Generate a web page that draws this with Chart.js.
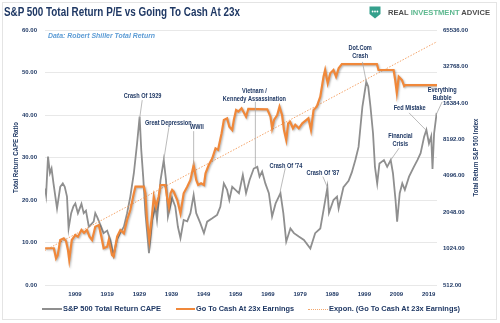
<!DOCTYPE html>
<html>
<head>
<meta charset="utf-8">
<script src="https://cdn.jsdelivr.net/npm/chart.js@4.4.1/dist/chart.umd.min.js"></script>
<style>
  html, body { margin:0; padding:0; background:#fff; }
  #wrap { position:relative; width:500px; height:323px; overflow:hidden; font-family:"Liberation Sans", Arial, sans-serif; }
  #frame { position:absolute; left:2px; top:2px; width:495px; height:318px; border:1px solid #e4e4e4; box-sizing:border-box; }
  #chart { position:absolute; left:0; top:0; }
  .txt { position:absolute; white-space:nowrap; transform-origin:0 50%; line-height:1; }
  .navy { color:#1f3864; }
  .key { position:absolute; }
</style>
</head>
<body>
<div id="wrap">
  <div id="frame"></div>
  <canvas id="chart" width="500" height="323"></canvas>

  <div class="txt navy" data-w="236" style="left:4px;top:6.4px;font-size:12px;font-weight:bold;">S&amp;P 500 Total Return P/E vs Going To Cash At 23x</div>

  <svg class="key" style="left:369px;top:6px" width="12" height="13" viewBox="0 0 12 13">
    <path d="M0.5 0.5 H11.5 V8 L6 12.5 L0.5 8 Z" fill="#35a08c"/>
    <circle cx="3.6" cy="5.5" r="0.9" fill="#fff"/>
    <circle cx="6" cy="5.5" r="0.9" fill="#fff"/>
    <circle cx="8.4" cy="5.5" r="0.9" fill="#fff"/>
  </svg>
  <div class="txt" data-w="102" style="left:388px;top:9.9px;font-size:6.5px;font-weight:bold;color:#4d4d4d;">REAL <span style="color:#5db88f">INVESTMENT</span> ADVICE</div>

  <div class="txt" data-w="107" style="left:48px;top:32px;font-size:7.5px;font-weight:bold;font-style:italic;color:#5b9bd5;">Data: Robert Shiller Total Return</div>

  <div class="key" style="left:42px;top:308px;width:20px;height:2px;background:#8f8f8f"></div>
  <div class="txt navy" data-w="98" style="left:63px;top:304.7px;font-size:8px;font-weight:bold;">S&amp;P 500 Total Return CAPE</div>
  <div class="key" style="left:176px;top:308px;width:19px;height:2px;background:#f0883a"></div>
  <div class="txt navy" data-w="98" style="left:196px;top:304.7px;font-size:8px;font-weight:bold;">Go To Cash At 23x Earnings</div>
  <div class="key" style="left:308px;top:308.5px;width:20px;height:0;border-top:1px dotted #f4a76c"></div>
  <div class="txt navy" data-w="131" style="left:329px;top:304.7px;font-size:8px;font-weight:bold;">Expon. (Go To Cash At 23x Earnings)</div>
</div>

<script>
// Total return CAPE (left axis), decimal years
var capeYears = [
  1899.7, 1900.0, 1900.6, 1901.2, 1901.7, 1902.3, 1903.4, 1904.4, 1905.2, 1905.8,
  1906.5, 1907.0, 1907.8, 1908.5, 1909.1, 1909.9, 1911.0, 1911.7, 1912.4, 1913.3,
  1914.8, 1915.3, 1916.0, 1916.9, 1917.9, 1919.0, 1920.0, 1921.0, 1922.0, 1923.0,
  1924.2, 1925.2, 1926.2, 1927.3, 1928.3, 1929.1, 1929.6, 1930.2, 1930.9, 1932.0,
  1933.0, 1934.0, 1934.5, 1935.6, 1936.6, 1937.3, 1937.9, 1939.2, 1940.2, 1941.0,
  1941.8, 1942.8, 1943.9, 1944.9, 1945.9, 1946.7, 1948.0, 1949.1, 1950.1, 1951.7,
  1953.2, 1954.2, 1955.3, 1956.3, 1957.0, 1957.9, 1958.9, 1960.0, 1961.2, 1962.2,
  1963.3, 1964.6, 1965.7, 1966.4, 1967.2, 1968.2, 1969.3, 1970.3, 1971.4, 1972.4,
  1972.9, 1973.8, 1974.7, 1976.0, 1977.1, 1978.6, 1980.2, 1982.2, 1983.7, 1985.3,
  1986.3, 1987.5, 1988.0, 1989.4, 1990.5, 1991.0, 1992.5, 1994.1, 1995.1, 1996.2,
  1997.2, 1997.8, 1998.4, 1999.6, 2000.2, 2000.9, 2001.7, 2002.3, 2003.0, 2003.7,
  2005.1, 2006.1, 2007.2, 2007.9, 2008.7, 2009.2, 2010.0, 2010.8, 2011.6, 2012.9,
  2014.4, 2015.5, 2016.5, 2017.6, 2018.3, 2019.1, 2019.8, 2020.2, 2020.7, 2021.5
];
var capeValues = [
  22.7, 21.2, 30.2, 26.3, 27.4, 23.9, 18.0, 23.1, 23.9, 23.1,
  20.8, 13.3, 16.9, 18.5, 19.2, 16.9, 19.1, 16.9, 17.5, 13.7,
  14.9, 16.9, 15.8, 14.1, 12.2, 12.8, 10.6, 7.0, 10.6, 12.2,
  13.7, 16.9, 20.8, 26.3, 33.3, 39.6, 31.8, 25.5, 16.9, 7.5,
  15.3, 18.4, 15.3, 24.7, 29.4, 24.7, 16.1, 20.5, 18.4, 13.7,
  11.0, 15.3, 15.0, 16.9, 21.2, 16.9, 14.5, 12.2, 14.9, 15.7,
  16.5, 18.4, 23.9, 22.4, 20.0, 23.1, 22.4, 21.6, 25.9, 21.6,
  24.7, 27.4, 27.8, 25.5, 26.7, 23.9, 21.6, 16.1, 19.2, 20.8,
  21.6, 16.9, 10.2, 13.3, 12.2, 11.4, 10.6, 8.6, 12.2, 13.3,
  17.6, 22.9, 17.0, 20.0, 20.8, 18.0, 23.0, 24.5, 26.5, 29.4,
  32.5, 37.3, 42.0, 47.8, 46.7, 42.0, 35.7, 27.8, 23.9, 28.6,
  29.4, 27.8, 29.4, 26.3, 20.0, 14.9, 21.6, 23.9, 22.4, 25.5,
  27.8, 29.4, 31.0, 34.9, 36.5, 33.3, 35.0, 27.3, 35.7, 40.5
];

// Go to cash at 23x earnings (right axis, index level)
var cashYears = [
  1899.7, 1902.4, 1903.1, 1903.6, 1904.4, 1905.5, 1906.2, 1906.8, 1907.2, 1908.0,
  1909.1, 1909.9, 1911.0, 1911.8, 1912.7, 1913.5, 1914.3, 1915.3, 1916.4, 1917.2,
  1917.9, 1919.0, 1919.5, 1920.5, 1921.0, 1922.1, 1923.1, 1924.2, 1925.2, 1926.2,
  1927.3, 1927.8, 1930.4, 1930.9, 1931.4, 1932.1, 1933.0, 1933.5, 1934.2, 1935.0,
  1935.6, 1937.1, 1937.6, 1938.2, 1938.7, 1939.2, 1939.7, 1940.8, 1941.8, 1942.8,
  1943.9, 1944.9, 1945.9, 1946.7, 1947.3, 1948.2, 1949.1, 1949.6, 1950.6, 1951.7,
  1952.7, 1953.5, 1954.6, 1955.3, 1956.3, 1957.0, 1957.9, 1958.4, 1959.1, 1959.8,
  1960.8, 1962.2, 1962.9, 1968.8, 1969.8, 1970.3, 1970.9, 1971.9, 1972.6, 1973.4,
  1974.0, 1974.7, 1975.3, 1975.9, 1976.8, 1977.5, 1978.6, 1979.7, 1981.6, 1982.4,
  1983.2, 1984.2, 1985.3, 1986.3, 1986.8, 1987.6, 1988.4, 1989.4, 1990.2, 1991.0,
  1992.0, 2002.9, 2003.4, 2008.1, 2008.6, 2009.1, 2009.7, 2010.7, 2011.4, 2011.8,
  2021.6
];
var cashValues = [
  1030, 1030, 851, 900, 1205, 1245, 1180, 997, 824, 1205,
  1326, 1284, 1458, 1380, 1458, 1284, 1205, 1552, 1604, 1284,
  1030, 1061, 1205, 906, 880, 1284, 1458, 1369, 1763, 2133,
  2931, 3323, 3323, 2931, 1763, 1205, 2003, 2748, 2271, 2750,
  3433, 3433, 2748, 2271, 2931, 3121, 3021, 2580, 2003, 2931,
  3323, 3775, 5022, 3775, 3433, 3550, 3433, 4288, 5022, 5705,
  6898, 6700, 9179, 11822, 12211, 10408, 9776, 11822, 14302, 13900,
  14776, 12594, 14600, 14500, 12594, 10094, 11822, 13000, 15225, 13000,
  9776, 8080, 11106, 11448, 10094, 10800, 10094, 11106, 12211, 9776,
  14302, 15225, 18420, 26947, 30619, 23769, 28748, 30619, 26947, 31600,
  34300, 34300, 30619, 30619, 25300, 19770, 26947, 25300, 22500, 23000,
  23000
];

// exponential trend of the cash series (straight on the log axis)
var trendYears = [1899.66, 2021.6];
var trendValues = [990, 52500];

var xTicks = [1909, 1919, 1929, 1939, 1949, 1959, 1969, 1979, 1989, 1999, 2009, 2019];
var rightTicks = [512, 1024, 2048, 4096, 8192, 16384, 32768, 65536];

var NAVY = '#1f3864';

// callouts: text lines, label centre and leader line, in (year, CAPE) units
var notes = [
  { lines: ['Crash Of 1929'], at: [1930.0, 44.5], from: [1929.9, 43.5], to: [1929.1, 39.2] },
  { lines: ['Great Depression'], at: [1938.0, 38.0], from: [1938.2, 37.1], to: [1936.6, 29.4] },
  { lines: ['WWII'], at: [1946.9, 37.2], from: [1945.9, 36.2], to: [1945.9, 28.2] },
  { lines: ['Vietnam /', 'Kennedy Assassination'], at: [1964.8, 45.7], from: [1965.1, 43.1], to: [1965.1, 27.8] },
  { lines: ["Crash Of '74"], at: [1974.6, 28.0], from: [1974.4, 27.5], to: [1972.8, 22.0] },
  { lines: ["Crash Of '87"], at: [1986.1, 26.3], from: [1986.1, 25.5], to: [1987.5, 23.0] },
  { lines: ['Dot.Com', 'Crash'], at: [1997.7, 55.7], from: [1998.4, 52.5], to: [1999.6, 47.8] },
  { lines: ['Financial', 'Crisis'], at: [2010.2, 35.1], from: [2009.8, 32.2], to: [2007.2, 29.4] },
  { lines: ['Fed Mistake'], at: [2013.1, 41.6], from: [2012.9, 40.5], to: [2018.1, 36.5] },
  { lines: ['Everything', 'Bubble'], at: [2023.2, 45.9], from: [2023.2, 43.1], to: [2021.3, 40.0] }
];

function toPoints(xs, ys) {
  return xs.map(function(x, i){ return { x: x, y: ys[i] }; });
}

function drawText(ctx, text, x, y, font, color, sx, rotate) {
  ctx.save();
  ctx.translate(x, y);
  if (rotate) ctx.rotate(-Math.PI / 2);
  ctx.scale(sx, 1);
  ctx.font = font;
  ctx.fillStyle = color;
  ctx.textAlign = 'center';
  ctx.textBaseline = 'middle';
  ctx.fillText(text, 0, 0);
  ctx.restore();
}

var lineShadow = {
  id: 'lineShadow',
  beforeDatasetDraw: function(chart, args) {
    if (args.index !== 0) return;
    var ctx = chart.ctx;
    ctx.save();
    ctx.shadowColor = 'rgba(0,0,0,0.3)';
    ctx.shadowBlur = 2;
    ctx.shadowOffsetX = 1;
    ctx.shadowOffsetY = 1;
  },
  afterDatasetDraw: function(chart, args) {
    if (args.index !== 0) return;
    chart.ctx.restore();
  }
};

var callouts = {
  id: 'callouts',
  afterDraw: function(chart) {
    var ctx = chart.ctx;
    var sx = chart.scales.x, sy = chart.scales.y;
    var px = function(p){ return [sx.getPixelForValue(p[0]), sy.getPixelForValue(p[1])]; };

    notes.forEach(function(n){
      var a = px(n.from), b = px(n.to);
      ctx.save();
      ctx.strokeStyle = '#a9a9a9';
      ctx.lineWidth = 0.8;
      ctx.beginPath();
      ctx.moveTo(a[0], a[1]);
      ctx.lineTo(b[0], b[1]);
      ctx.stroke();
      ctx.restore();
      var c = px(n.at);
      n.lines.forEach(function(t, i){
        drawText(ctx, t, c[0], c[1] + i * 7.8, 'bold 7px "Liberation Sans"', NAVY, 0.8, false);
      });
    });

    // axis titles
    drawText(ctx, 'Total Return CAPE Ratio', 16.3, 157.5, 'bold 7.5px "Liberation Sans"', NAVY, 0.81, true);
    drawText(ctx, 'Total Return S&P 500 Index', 476, 157.5, 'bold 7.5px "Liberation Sans"', NAVY, 0.8, true);
  }
};

Chart.defaults.font.family = '"Liberation Sans", Arial, sans-serif';

new Chart(document.getElementById('chart'), {
  type: 'line',
  data: {
    datasets: [
      {
        label: 'Go To Cash At 23x Earnings',
        data: toPoints(cashYears, cashValues),
        yAxisID: 'y1',
        borderColor: '#f0883a',
        borderWidth: 2.2,
        pointRadius: 0,
        tension: 0,
        order: 1
      },
      {
        label: 'Expon. (Go To Cash At 23x Earnings)',
        data: toPoints(trendYears, trendValues),
        yAxisID: 'y1',
        borderColor: '#f4a46a',
        borderWidth: 1,
        borderDash: [1.5, 1.5],
        pointRadius: 0,
        order: 2
      },
      {
        label: 'S&P 500 Total Return CAPE',
        data: toPoints(capeYears, capeValues),
        yAxisID: 'y',
        borderColor: '#8f8f8f',
        borderWidth: 1.8,
        pointRadius: 0,
        tension: 0,
        order: 3
      }
    ]
  },
  options: {
    responsive: false,
    animation: false,
    devicePixelRatio: 1,
    layout: { padding: { top: 30, left: 0, right: 0, bottom: 0 } },
    plugins: { legend: { display: false }, tooltip: { enabled: false } },
    scales: {
      x: {
        type: 'linear',
        min: 1899.66,
        max: 2021.6,
        afterBuildTicks: function(scale){ scale.ticks = xTicks.map(function(v){ return { value: v }; }); },
        afterFit: function(scale){ scale.height = 38; },
        grid: { display: false, drawTicks: false },
        border: { display: false },
        ticks: {
          padding: 6,
          maxRotation: 0,
          autoSkip: false,
          color: NAVY,
          font: { size: 6, weight: 'bold' },
          callback: function(v){ return String(v); }
        }
      },
      y: {
        position: 'left',
        min: 0,
        max: 60,
        afterFit: function(scale){ scale.width = 45; },
        grid: { color: '#e8e8e8', lineWidth: 1, drawTicks: false },
        border: { display: false },
        ticks: {
          stepSize: 10,
          padding: 8,
          color: NAVY,
          font: { size: 6, weight: 'bold' },
          callback: function(v){ return v.toFixed(2); }
        }
      },
      y1: {
        type: 'logarithmic',
        position: 'right',
        min: 512,
        max: 65536,
        afterBuildTicks: function(scale){ scale.ticks = rightTicks.map(function(v){ return { value: v }; }); },
        afterFit: function(scale){ scale.width = 63; },
        grid: { display: false, drawTicks: false },
        border: { display: false },
        ticks: {
          padding: 6,
          color: NAVY,
          font: { size: 6, weight: 'bold' },
          callback: function(v){ return Number(v).toFixed(2); }
        }
      }
    }
  },
  plugins: [lineShadow, callouts]
});

// squeeze the html labels to their drawn widths
document.querySelectorAll('.txt[data-w]').forEach(function(el){
  var w = el.getBoundingClientRect().width;
  var target = parseFloat(el.getAttribute('data-w'));
  if (w > 0) el.style.transform = 'scaleX(' + (target / w).toFixed(3) + ')';
});
</script>
</body>
</html>
